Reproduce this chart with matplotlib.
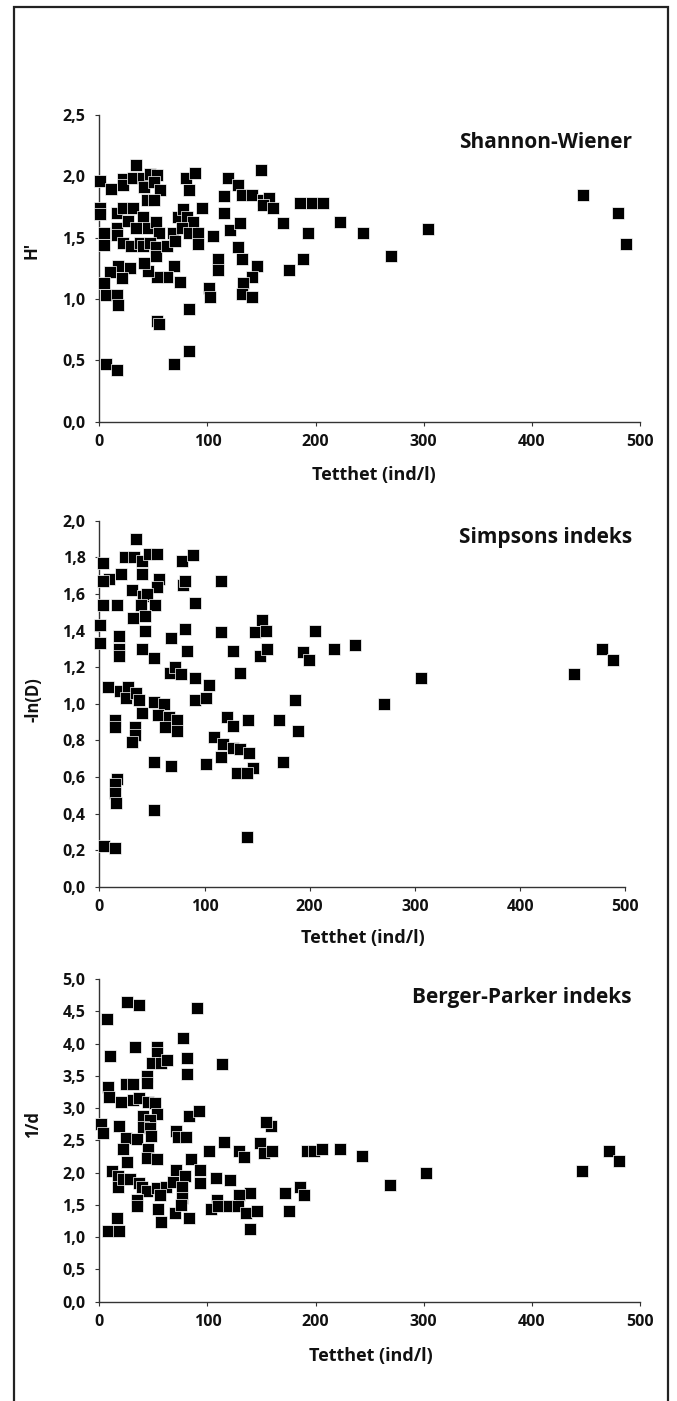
import matplotlib
matplotlib.use("Agg")
import matplotlib.pyplot as plt
from matplotlib.ticker import FuncFormatter, MultipleLocator
from matplotlib.patches import Rectangle

plt.rcParams['font.family'] = ['Open Sans', 'DejaVu Sans']

# ---------------- data ----------------
sw_x = [0.6, 10.5, 21.6, 21.6, 34, 31.5, 40.1, 46.9, 53.1, 41.4, 50.6, 56.2, 44.4, 50.9,
        80.2, 88.5, 83.3, 119.3, 128, 149.6, 115.4, 132.3, 141, 151.7, 157.3, 151.2, 161,
        185.7, 196.5, 206.7, 170.2, 222.7, 193.3, 188.7, 175.8, 0.6, 0.6, 4.6, 4.6, 16.1,
        16.1, 16.1, 21.6, 31.5, 26.3, 40.7, 34, 45.3, 52.5, 55, 21.6, 29, 37.7, 40.7, 46.9,
        52.5, 52.5, 62.3, 68.5, 70, 73.1, 77.7, 80.9, 86.4, 76.2, 83.3, 91.6, 91.6, 94.7,
        105.5, 115.4, 120.9, 130.2, 128, 131.7, 145.6, 141, 133.2, 131.7, 141, 109.5, 109.5,
        101.8, 102.4, 69.1, 74.7, 62.3, 53.1, 45.3, 41.4, 28.4, 17.6, 9.9, 21.3, 4.6, 6.2,
        16.1, 17.6, 83.3, 53.1, 55.2, 83.3, 69.1, 6.2, 16.1, 244.2, 269.8, 303.8, 447.7,
        480.1, 487]
sw_y = [1.96, 1.90, 1.98, 1.93, 2.09, 1.99, 1.99, 2.02, 2.01, 1.91, 1.95, 1.89, 1.81, 1.81,
        1.99, 2.03, 1.89, 1.99, 1.93, 2.05, 1.84, 1.85, 1.85, 1.81, 1.82, 1.77, 1.74,
        1.78, 1.78, 1.78, 1.62, 1.63, 1.54, 1.33, 1.24, 1.74, 1.69, 1.54, 1.44, 1.70,
        1.58, 1.52, 1.74, 1.74, 1.64, 1.67, 1.58, 1.58, 1.63, 1.54, 1.46, 1.43, 1.46, 1.43, 1.46,
        1.42, 1.35, 1.43, 1.54, 1.47, 1.67, 1.73, 1.67, 1.63, 1.58, 1.54, 1.54, 1.45, 1.74,
        1.51, 1.70, 1.56, 1.62, 1.42, 1.33, 1.27, 1.18, 1.13, 1.04, 1.02, 1.33, 1.24,
        1.09, 1.02, 1.27, 1.14, 1.18, 1.18, 1.23, 1.29, 1.25, 1.27, 1.22, 1.17, 1.13, 1.03,
        1.03, 0.95, 0.92, 0.82, 0.80, 0.58, 0.47, 0.47, 0.42, 1.54, 1.35, 1.57, 1.85,
        1.70, 1.45]

si_x = [34.9, 3.2, 24.7, 33, 40.6, 47, 55.1, 78.6, 89.4, 9.5, 3.2, 20.6, 40.6, 57, 54.6,
        30.8, 79.8, 81, 115.7, 3.2, 16.5, 41.3, 45.6, 39.4, 53, 91, 31.7, 43.4, 43.4, 0.5,
        0.5, 19, 19, 19, 40.6, 52.3, 68.2, 81.5, 83.1, 115.7, 127.4, 133.7, 148, 154.4,
        158.5, 152.8, 159.7, 193.3, 199, 205.3, 223.4, 243.4, 67.2, 72, 77.4, 91, 104.6,
        8.6, 19.7, 27.6, 25.4, 34.9, 37.4, 40.6, 52, 61.8, 56.1, 65.9, 62.5, 74.2, 73.6,
        91, 101.1, 14.9, 14.9, 33.9, 33.9, 30.8, 121.1, 126.8, 141.1, 170.8, 186.3, 189.2,
        109.3, 117.9, 126.8, 133.7, 142.6, 115.7, 52.3, 68.2, 101.1, 145.8, 174.9, 130.6,
        140.7, 16.5, 14.9, 14.9, 15.5, 4.5, 14.9, 52, 140, 305.8, 270.6, 451.5, 477.6,
        488.6]
si_y = [1.90, 1.77, 1.80, 1.80, 1.78, 1.82, 1.82, 1.78, 1.81, 1.68, 1.67, 1.71, 1.71, 1.68,
        1.64, 1.62, 1.65, 1.67, 1.67, 1.54, 1.54, 1.59, 1.60, 1.54, 1.54, 1.55, 1.47, 1.48,
        1.40, 1.43, 1.33, 1.37, 1.30, 1.26, 1.30, 1.25, 1.36, 1.41, 1.29, 1.39, 1.29, 1.17,
        1.39, 1.46, 1.40, 1.26, 1.30, 1.28, 1.24, 1.40, 1.30, 1.32, 1.17, 1.20, 1.16, 1.14,
        1.10, 1.09, 1.07, 1.09, 1.03, 1.06, 1.02, 0.95, 1.01, 1.00, 0.94, 0.93, 0.87, 0.91,
        0.85, 1.02, 1.03, 0.91, 0.87, 0.87, 0.83, 0.79, 0.93, 0.88, 0.91, 0.91, 1.02, 0.85,
        0.82, 0.78, 0.76, 0.75, 0.73, 0.71, 0.68, 0.66, 0.67, 0.65, 0.68, 0.62, 0.62, 0.59,
        0.56, 0.51, 0.46, 0.22, 0.21, 0.42, 0.27, 1.14, 1.00, 1.16, 1.30, 1.24]

bp_x = [25.4, 36.8, 90.2, 7.4, 77.8, 32.8, 53.7, 9.9, 53.7, 81.5, 48.5, 57.1, 62.4, 113.9,
        81.5, 43.9, 43.9, 24.4, 31.5, 7.8, 9, 20.1, 30.9, 37, 45.4, 51.6, 53.7, 40.2, 83.1,
        92.6, 46.9, 1.9, 3.1, 18.5, 40.2, 46.9, 71, 73.1, 80.3, 24.4, 35.2, 47.9, 21.7, 45.4,
        115.5, 101.6, 129.4, 134, 148.8, 152.5, 159.6, 158.7, 154.4, 192, 198.1, 205.9,
        222.2, 25.4, 44.4, 53.7, 84.6, 11.5, 17.6, 17.6, 21.7, 28.4, 37, 39.3, 44.4, 53.1,
        61.8, 71, 68, 79.4, 76.3, 93.2, 93.2, 108, 121, 185.2, 189.5, 171.3, 138.9, 129.6,
        109.3, 34.6, 56.2, 76.3, 8, 18, 16, 35.3, 54, 57, 70, 76, 83.4, 103, 110, 120, 128,
        135.6, 145.6, 139.6, 175.7, 243, 269.2, 302.5, 446.7, 471.3, 481]
bp_y = [4.65, 4.60, 4.55, 4.38, 4.08, 3.95, 3.95, 3.81, 3.85, 3.77, 3.70, 3.70, 3.74, 3.68,
        3.53, 3.49, 3.39, 3.38, 3.38, 3.32, 3.17, 3.09, 3.12, 3.15, 3.09, 3.08, 2.91, 2.88, 2.88,
        2.96, 2.82, 2.75, 2.61, 2.72, 2.70, 2.69, 2.64, 2.55, 2.55, 2.53, 2.52, 2.56, 2.36, 2.36,
        2.47, 2.34, 2.34, 2.24, 2.46, 2.30, 2.34, 2.72, 2.79, 2.34, 2.34, 2.36,
        2.36, 2.16, 2.23, 2.21, 2.21, 2.02, 1.94, 1.78, 1.90, 1.90, 1.84, 1.78, 1.71, 1.76,
        1.77, 2.04, 1.86, 1.95, 1.78, 2.04, 1.84, 1.91, 1.89, 1.78, 1.65, 1.68, 1.68, 1.65,
        1.58, 1.58, 1.65, 1.60, 1.10, 1.10, 1.29, 1.48, 1.43, 1.23, 1.38, 1.50, 1.29, 1.43, 1.48,
        1.48, 1.48, 1.38, 1.41, 1.13, 1.40, 2.25, 1.81, 1.99, 2.02, 2.33, 2.18]

titles = ["Shannon-Wiener", "Simpsons indeks", "Berger-Parker indeks"]
ylabels = ["H'", "-ln(D)", "1/d"]
xlabel = "Tetthet (ind/l)"
x_ticks = [0, 100, 200, 300, 400, 500]
y_limits = [2.5, 2.0, 5.0]
y_steps = [0.5, 0.2, 0.5]

# ---------------- layout (pixel boxes) ----------------
W, H = 677, 1401
fig = plt.figure(figsize=(W / 100, H / 100), dpi=100)

# (left, right, top, bottom) in pixels
boxes = [(99.3, 640.0, 115.0, 421.7),
         (99.3, 625.3, 520.7, 886.7),
         (99.3, 640.0, 979.0, 1301.7)]
title_pos = [(632, 142), (632, 538), (632, 998)]
ylabel_pos = [(31, 250), (33, 700), (33, 1125)]
xlabel_pos = [(374, 475), (363, 938), (371, 1356)]

series = [(sw_x, sw_y), (si_x, si_y), (bp_x, bp_y)]
tc = '#111111'
fmt = FuncFormatter(lambda v, p: f"{v:.1f}".replace('.', ','))

for i, (l, r, t, b) in enumerate(boxes):
    ax = fig.add_axes([l / W, 1 - b / H, (r - l) / W, (b - t) / H])
    x, y = series[i]
    ax.scatter(x, y, marker='s', s=78, c='black', edgecolors='white',
               linewidths=0.5, clip_on=False, zorder=3)
    ax.set_xlim(0, 500)
    ax.set_ylim(0, y_limits[i])
    ax.set_xticks(x_ticks)
    ax.yaxis.set_major_locator(MultipleLocator(y_steps[i]))
    ax.yaxis.set_major_formatter(fmt)
    for s in ['top', 'right']:
        ax.spines[s].set_visible(False)
    for s in ['left', 'bottom']:
        ax.spines[s].set_color('#333333')
        ax.spines[s].set_linewidth(1.0)
    ax.tick_params(axis='both', direction='out', length=3, width=0.8,
                   color='#333333', labelsize=11.5, labelcolor=tc)
    ax.tick_params(axis='y', pad=7)
    ax.tick_params(axis='x', pad=6)
    for lab in ax.get_xticklabels() + ax.get_yticklabels():
        lab.set_fontweight('bold')
    fig.text(xlabel_pos[i][0] / W, 1 - xlabel_pos[i][1] / H,
             xlabel, ha='center', va='center', fontsize=13, fontweight='bold', color=tc)
    fig.text(title_pos[i][0] / W, 1 - title_pos[i][1] / H, titles[i], ha='right',
             va='center', fontsize=15, fontweight='bold', color=tc)
    fig.text(ylabel_pos[i][0] / W, 1 - ylabel_pos[i][1] / H, ylabels[i], ha='center',
             va='center', rotation=90, fontsize=12, fontweight='bold', color=tc)

# outer frame
frame = Rectangle((14 / W, -0.01), (668 - 14) / W, 1 - 7 / H + 0.01,
                  transform=fig.transFigure, fill=False, edgecolor='#222222',
                  linewidth=1.6, clip_on=False)
fig.add_artist(frame)

fig.savefig("out.png", dpi=100, facecolor='white')
